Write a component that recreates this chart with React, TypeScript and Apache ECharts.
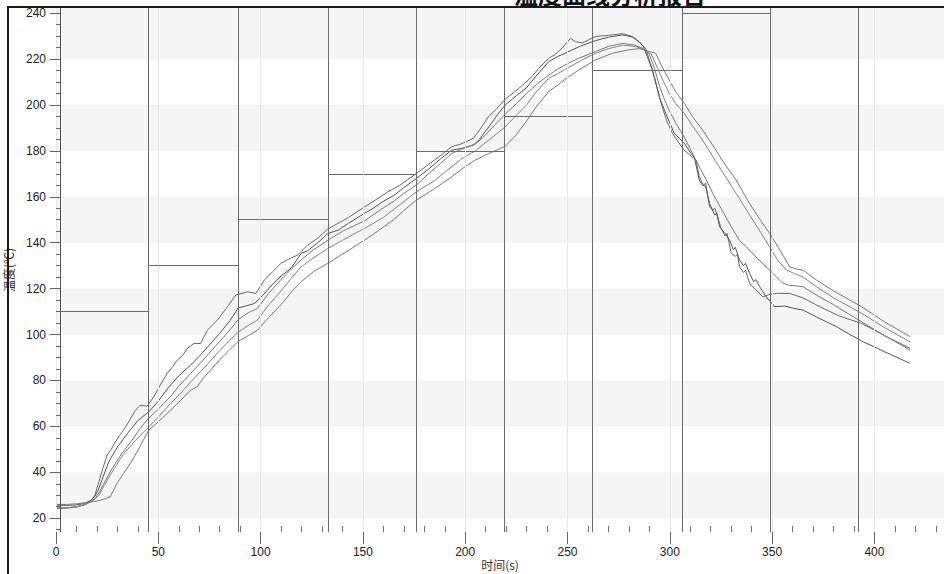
import React, { useEffect, useRef } from "react";
import * as echarts from "echarts";

const zoneEdges = [0, 45, 89, 133, 176, 219, 262, 306, 349, 392];
const setpoints = [110, 130, 150, 170, 180, 195, 215, 240];
const yTicks = [20, 40, 60, 80, 100, 120, 140, 160, 180, 200, 220, 240];
const yMinorTicks = [15, 20, 25, 30, 35, 40, 45, 50, 55, 60, 65, 70, 75, 80, 85, 90, 95, 100, 105, 110, 115, 120, 125, 130, 135, 140, 145, 150, 155, 160, 165, 170, 175, 180, 185, 190, 195, 200, 205, 210, 215, 220, 225, 230, 235, 240];
const xMinorTicks = [10, 20, 30, 40, 60, 70, 80, 90, 110, 120, 130, 140, 160, 170, 180, 190, 210, 220, 230, 240, 260, 270, 280, 290, 310, 320, 330, 340, 360, 370, 380, 390, 410, 420, 430];
const grayBands = [[20, 40], [60, 80], [100, 120], [140, 160], [180, 200], [220, 242.2]];

const curveA = [[0,24.4],[5,24.5],[10,25],[14,26],[17,27.5],[19,30],[21,36],[23,42],[25,47.5],[27,50],[29,53.2],[31,56],[33,58.3],[36,62.7],[38.8,67],[41.2,69.2],[44.5,68.8],[47.8,72.9],[51,78],[54.3,83],[57,86],[59.2,88.8],[62,91],[64.1,93.9],[67.4,96.1],[70.7,96.1],[74,101.9],[78.9,106.3],[83.8,112.1],[87.9,117.2],[93.6,118.6],[97.7,117.9],[101.8,123.7],[106,127.5],[109.9,131],[114,133],[118.1,134.6],[123,139],[128,142],[132.9,146],[138,148.5],[143,151],[150.8,155.6],[156,158.5],[162,162],[168,165],[176.2,170.2],[182,174],[188,178],[193.4,181.8],[198,183],[204,185.4],[207,189],[211.4,194.9],[215,198],[219.6,202.5],[226,207],[232.6,212.3],[236,216],[240.8,220.3],[244,222],[247.4,224.7],[251.4,229],[254,227.5],[257.2,227],[263.7,229.8],[270,230.3],[276.8,231],[281.7,229.8],[285,227.5],[288.3,224.4],[290.5,218],[292.4,212.3],[296,200],[298.5,193],[301.3,187.6],[304,184],[307,180.3],[310,178],[312.8,176],[314.4,168.7],[316.5,165],[317.5,166],[319.4,155.6],[321,154],[322,155],[325.1,146.2],[327,143],[328,144],[330,135.3],[332,134],[333,135],[334.1,129.5],[336,127],[337,128],[339,122.3],[342,119.5],[345.5,116.4],[349,117.5],[352,117.9],[358.6,117.9],[365,116],[373.3,112.1],[383,108],[393.8,104.8],[405,99.5],[417.5,93.9]];
const curveB = [[0,25.7],[5,25.6],[10,25.8],[14,26.5],[17,27.8],[19,29.5],[21,33],[23,38],[26,45],[30,51],[35,57],[40,62.5],[45.3,66.3],[50,71],[55,77],[60,82],[65.8,86.7],[70,90.5],[75,95.5],[80,100.5],[85,106],[89,111.5],[93,112.5],[97,113.5],[101,117],[106,122],[110,125.5],[115,129],[119.8,135.3],[123,136.5],[128,140],[132.9,144],[138,145.5],[143,148.5],[150.8,152.8],[155,155],[160,158],[165,160.5],[170,164],[176.2,168],[182,172],[188,176.5],[193.4,180.3],[198,181],[204,182.5],[207,185],[212,191],[216,196],[219.6,200],[225,204],[230,207.5],[235,213],[240.8,218.8],[245,221],[250,223],[256,225.5],[263.7,228],[270,229.5],[277,230.5],[282,229.5],[285,227.5],[287,225.5],[289,221],[291.5,215.2],[294.8,203.6],[298,196.3],[302.2,187.6],[307.1,183.3],[310.3,178.9],[312,177],[314.4,167.3],[316,165],[317.5,164.5],[319.4,157.1],[322,152],[323,153],[324.3,146.9],[327,144],[329.2,141.1],[331,137],[332,138],[334.1,132.4],[336,130],[337,131],[339,126.6],[341,123],[342,124],[343.9,120.8],[347.1,116.4],[351.3,112.1],[356.2,112.4],[360,111.5],[365.2,110.6],[372,107.5],[381.5,103.4],[388,100],[394.6,96.8],[405,92.5],[417.5,87.4]];
const curveC = [[0,24.3],[5,24.4],[10,24.8],[14,25.8],[17,27.2],[19,28.5],[21,31],[23,34.5],[27,41],[32,48],[38,55],[41,59],[45.3,63.6],[50,67.5],[56,73],[60,77.5],[65.8,83],[72,89],[80,97],[85,102],[89,106.5],[94,109.5],[98.5,111.4],[104,118],[110,124],[115,128.5],[119.8,132.5],[126,137],[132.9,141.1],[140,145],[150.8,149.5],[158,154],[165,158],[170,161.5],[176.2,165.1],[182,170],[188,174.5],[193.4,178.9],[199,181],[205,183],[209,186],[212,189],[219.6,196],[225,200.5],[230,205],[235,209],[240.8,213],[245,215.5],[250,218],[256,220.5],[263.7,223.2],[270,225.5],[277,226.8],[283,226],[287,224.5],[290,222],[292.5,216],[295,208],[297.5,202],[300,197],[303,192],[307,186],[311,179],[315,172],[318,167],[321,161.5],[325,155],[330,147],[334,141],[337.3,138.2],[343,133],[350.4,126.6],[355,122.5],[358,121.5],[365.2,120.8],[372,117],[380,113],[393.8,105.5],[405,99.5],[417.5,93.2]];
const curveD = [[0,24.5],[5,24.5],[10,25],[14,25.9],[17,27.1],[19,28.2],[21,30],[24,35],[28,41],[33,48],[39,54],[45.3,59.8],[50,64],[56,70],[62,75.5],[65.8,79.4],[72,85],[80,93],[85,97.5],[89,101],[94,104],[98.5,106.3],[104,113],[110,119],[115,124.5],[119.8,129.5],[126,133.5],[132.9,137.5],[140,141],[145,143.5],[150.8,146.2],[160,151],[168,156.5],[176.2,162.2],[185,167],[193.4,173.1],[199,177],[205,180],[212,185],[219.6,190.5],[225,195.5],[230,200],[235,206],[240.8,211.6],[245,213.5],[250,216],[257,219.5],[263.7,222.5],[270,224.5],[277,226],[283,225.5],[288,224],[291,222],[294,216],[297,210],[299.7,205],[303,200.5],[307.1,196.3],[311,191],[316,184.7],[322,176],[327,169],[332.4,161.5],[338,153.5],[343,146.5],[348.8,138.2],[353,132],[357,128.1],[361,126.5],[365.2,125],[371.7,120.8],[380,116],[393.8,109.2],[405,103],[417.5,96.8]];
const curveE = [[0,26],[5,26],[10,26.3],[15,26.8],[19,27.3],[21.6,27.8],[24,28.5],[26.5,29.3],[28,32],[29.8,35.1],[33,39.5],[36.3,43.8],[40,49.5],[45.3,58.3],[50,62],[54.3,65.6],[60,70.5],[65.8,75.8],[69,77.2],[72,81],[80,89],[85,93.5],[89,97],[94,99.5],[98.5,101.9],[104,107.5],[110,113],[115,118.5],[119.8,123],[126,127.5],[132.9,131],[140,135],[145,137.8],[150.8,141.1],[158,145.5],[165,150],[170,154],[176.2,158.6],[185,163.5],[193.4,168.7],[199,172.5],[205,176],[212,179],[219.6,182],[225,187],[230,193],[235,199.5],[240.8,205.8],[245,208.5],[250,212],[257,216],[263.7,219.6],[272,222.5],[280,224],[285,224.5],[289,223.5],[293.1,222.5],[296,217],[299.7,210.8],[303,205.5],[307.1,200.7],[311,195],[316,189.1],[322,181],[327,174],[332.4,167.3],[338,158.5],[343,151.5],[348.8,144],[353,138],[358.6,129.5],[362,128.5],[365.2,128],[371.7,123.7],[380,119],[393.8,112.1],[405,105.5],[417.5,99]];

const curves = [
  { name: "A", data: curveA, color: "#6a6a6a" },
  { name: "B", data: curveB, color: "#555555" },
  { name: "C", data: curveC, color: "#7a7a7a" },
  { name: "D", data: curveD, color: "#858585" },
  { name: "E", data: curveE, color: "#7c7c7c" },
];

const X_MAX = 434;
const Y_MIN = 14;
const Y_MAX = 242.2;

export default function App() {
  const ref = useRef<HTMLDivElement>(null);
  useEffect(() => {
    document.body.style.margin = "0";
    const chart = echarts.init(ref.current!, undefined, { renderer: "svg" });
    const labelFont = "Liberation Sans";
    const option: any = {
      animation: false,
      backgroundColor: "#ffffff",
      grid: { left: 56, right: 0, top: 8, bottom: 42, containLabel: false, outerBoundsMode: "none" },
      xAxis: [
        {
          type: "value",
          min: 0,
          max: X_MAX,
          interval: 50,
          position: "bottom",
          z: 10,
          name: "时间(s)",
          nameLocation: "middle",
          nameGap: 26,
          nameMoveOverlap: false,
          nameTextStyle: { fontSize: 12, color: "#333", fontFamily: "Noto Sans CJK SC" },
          axisLine: { show: false, onZero: false },
          axisTick: { show: true, length: 12, lineStyle: { color: "#666" } },
          axisLabel: { showMaxLabel: false, margin: 14, fontSize: 12, color: "#222", fontFamily: labelFont },
          splitLine: { show: true, lineStyle: { color: "#e8e8e8", width: 1 } },
        },
        {
          type: "value",
          min: 0,
          max: X_MAX,
          position: "bottom",
          z: 10,
          axisLine: { show: false, onZero: false },
          axisLabel: { show: false },
          splitLine: { show: false },
          axisTick: { show: true, inside: true, length: 6, customValues: xMinorTicks, lineStyle: { color: "#777" } },
        },
      ],
      yAxis: [
        {
          type: "value",
          min: Y_MIN,
          max: Y_MAX,
          position: "left",
          offset: -4,
          z: 10,
          name: "温度(℃)",
          nameLocation: "middle",
          nameGap: 46,
          nameMoveOverlap: false,
          nameTextStyle: { fontSize: 12, color: "#333", fontFamily: "Noto Sans CJK SC" },
          axisLine: { show: true, onZero: false, lineStyle: { color: "#555", width: 1 } },
          axisTick: { show: true, length: 10, customValues: yTicks, lineStyle: { color: "#666" } },
          axisLabel: { customValues: yTicks, margin: 14, fontSize: 12, color: "#222", fontFamily: labelFont },
          splitLine: { show: false },
        },
        {
          type: "value",
          min: Y_MIN,
          max: Y_MAX,
          position: "left",
          offset: -4,
          z: 10,
          axisLine: { show: false, onZero: false },
          axisLabel: { show: false },
          splitLine: { show: false },
          axisTick: { show: true, length: 4, customValues: yMinorTicks, lineStyle: { color: "#666" } },
        },
      ],
      graphic: [
        {
          type: "text",
          x: 610,
          y: 5,
          z: 100,
          style: {
            text: "温度曲线分析报告",
            font: 'bold 24px "Noto Sans CJK SC"',
            fill: "#111",
            align: "center",
            verticalAlign: "bottom",
            textAlign: "center",
            textVerticalAlign: "bottom",
          },
        },
        {
          type: "rect",
          z: 100,
          shape: { x: 8, y: 7, width: 1000, height: 700 },
          style: { fill: "none", stroke: "#1a1a1a", lineWidth: 2 },
        },
      ],
      series: [
        {
          type: "line",
          name: "zones",
          z: 1,
          data: [],
          silent: true,
          markArea: {
            silent: true,
            itemStyle: { color: "#f5f5f5" },
            data: grayBands.map(([a, b]) => [{ yAxis: a }, { yAxis: b }]),
          },
          markLine: {
            silent: true,
            symbol: "none",
            label: { show: false },
            lineStyle: { color: "#6a6a6a", width: 1, type: "solid" },
            data: zoneEdges.slice(1).map((x) => ({ xAxis: x })),
          },
        },
        {
          type: "line",
          name: "setpoints",
          z: 2,
          data: [],
          silent: true,
          markLine: {
            silent: true,
            symbol: "none",
            label: { show: false },
            lineStyle: { color: "#6a6a6a", width: 1.2, type: "solid" },
            data: setpoints.map((v, i) => [
              { coord: [zoneEdges[i], v] },
              { coord: [zoneEdges[i + 1], v] },
            ]),
          },
        },
        ...curves.map((c) => ({
          type: "line",
          name: c.name,
          z: 3,
          data: c.data,
          showSymbol: false,
          symbol: "none",
          smooth: false,
          lineStyle: { color: c.color, width: 1 },
        })),
      ],
    };
    chart.setOption(option);
    return () => chart.dispose();
  }, []);
  return <div ref={ref} style={{ width: 944, height: 574 }} />;
}
